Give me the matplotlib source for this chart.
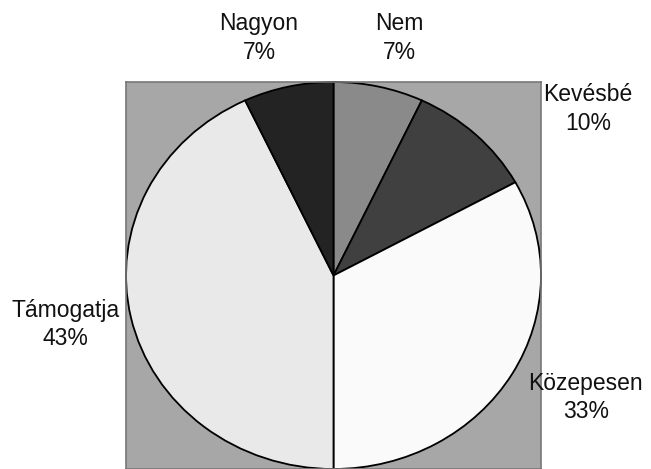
import matplotlib.pyplot as plt

plt.rcParams["font.family"] = ["Liberation Sans", "DejaVu Sans"]

labels = ["Nem", "Kevésbé", "Közepesen", "Támogatja", "Nagyon"]
shares = [7, 10, 33, 43, 7]
colors = ["#8a8a8a", "#404040", "#fafafa", "#e9e9e9", "#232323"]

# label anchors in figure fractions (centre of the two-line label)
label_pos = {
    "Nem": (0.613, 0.919),
    "Kevésbé": (0.903, 0.768),
    "Közepesen": (0.900, 0.152),
    "Támogatja": (0.101, 0.308),
    "Nagyon": (0.398, 0.919),
}

fig = plt.figure(figsize=(6.51, 4.69), dpi=100)
ax = fig.add_axes([126 / 651, 0, 415 / 651, 387 / 469])
ax.set_facecolor("#a7a7a7")

ax.pie(shares, colors=colors, startangle=90, counterclock=False,
       wedgeprops=dict(edgecolor="black", linewidth=1.3), frame=True)
ax.set_aspect("auto")
ax.set_xlim(-1.0, 1.0)
ax.set_ylim(-1.0, 1.0)
ax.set_xticks([])
ax.set_yticks([])
for s in ax.spines.values():
    s.set_color("#777777")
    s.set_linewidth(1.2)

for name, val in zip(labels, shares):
    x, y = label_pos[name]
    fig.text(x, y, f"{name}\n{val}%", ha="center", va="center",
             fontsize=16.5, linespacing=1.3, color="#111111")

fig.savefig("out.png", dpi=100)
